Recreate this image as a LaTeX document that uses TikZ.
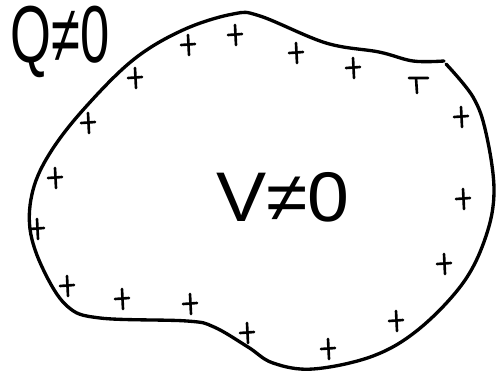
\documentclass[tikz,border=0pt]{standalone}
\usepackage{fontspec}
\setmainfont{Liberation Sans}

\begin{document}
\begin{tikzpicture}[x=0.02cm,y=-0.02cm,line cap=round,line join=round]

\useasboundingbox (0,0) rectangle (496,372);

% Conducteur
\draw[line width=1.9pt]
plot[smooth,tension=0.6] coordinates {
(446,64) (473,97) (486,133) (494,190) (486,236) (463,283)
(419,329) (373,356) (313,369) (273,363) (248,347) (214,327)
(187,321) (100,318) (67,306) (43,269) (30,229) (33,190)
(50,153) (83,110) (133,60) (183,30) (233,14) (260,16)
(326,43) (379,52) (413,61) (444,61)};

% Charges en surface
\foreach \x/\y in {188/45, 235/35, 296/53, 353/68, 135/78, 88/123,
55/178, 461/117, 463/199, 444/264, 396/321, 328/349, 247/333,
190/304, 122/299, 67/286, 37/229}
\draw[line width=1.5pt] (\x-7,\y) -- (\x+7,\y-1) (\x,\y-10) -- (\x+1,\y+10);

\draw[line width=1.5pt] (409,78) -- (428,78) (416,78) -- (417,93);

% Textes
\node[anchor=base,font=\fontsize{46}{46}\selectfont,xscale=0.65,transform shape]
(charge) at (60,62) {Q≠0};
\node[anchor=base,font=\fontsize{40}{40}\selectfont,xscale=1.07,transform shape]
(potentiel) at (283,221) {V≠0};

\end{tikzpicture}
\end{document}
